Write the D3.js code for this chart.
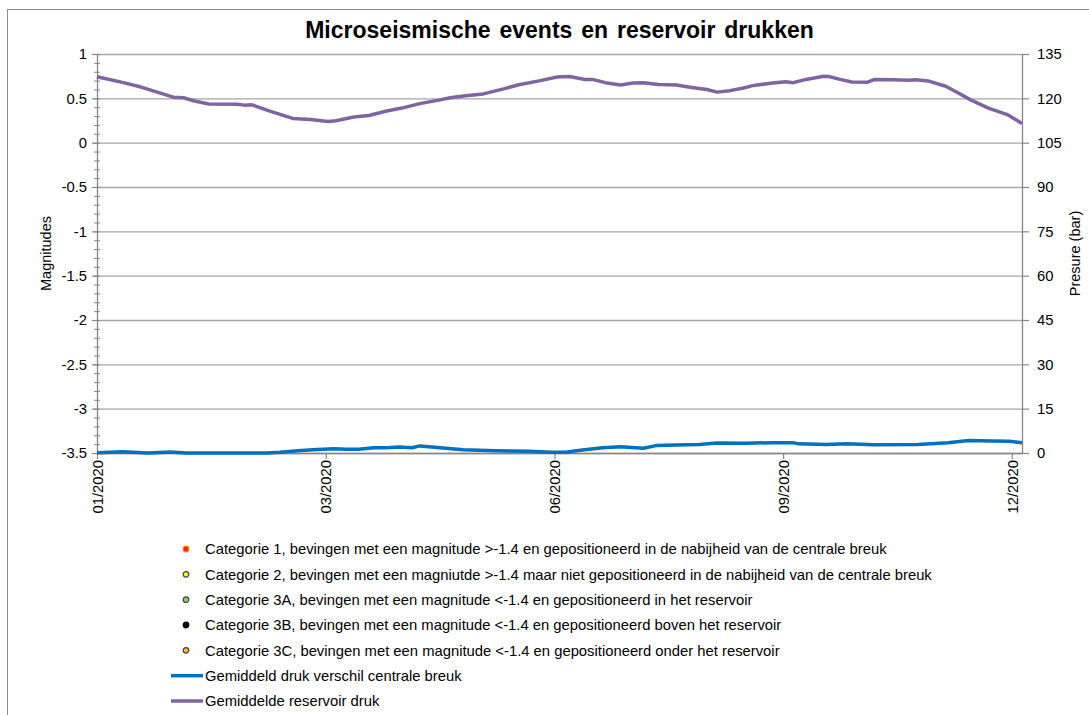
<!DOCTYPE html>
<html>
<head>
<meta charset="utf-8">
<script src="https://cdn.jsdelivr.net/npm/d3@7"></script>
<style>
  body { margin: 0; background: #fff; }
  text { font-family: "Liberation Sans", Arial, sans-serif; fill: #000; }
</style>
</head>
<body>
<div id="container"></div>
<script>
/* DATA (days counted from 01-01-2020) */
const startDate = new Date(2020, 0, 1);
const xTickDays = [0, 90, 180, 270, 360];
const xTickLabels = ["01/2020", "03/2020", "06/2020", "09/2020", "12/2020"];
const magnitudeTicks = [1, 0.5, 0, -0.5, -1, -1.5, -2, -2.5, -3, -3.5];
const pressureTicks = [0, 15, 30, 45, 60, 75, 90, 105, 120, 135];

// Gemiddelde reservoir druk (bar)
const reservoirDays = [0, 10, 17, 24, 30, 34, 38, 44, 55, 58, 61, 68, 77, 84, 91, 94, 101, 107, 114, 120,
  127, 134, 139, 145, 152, 160, 166, 174, 181, 186, 192, 195, 200, 206, 211, 215, 221, 228, 234, 240,
  244, 249, 254, 258, 265, 271, 274, 279, 286, 288, 292, 297, 303, 306, 313, 320, 322, 327, 334, 338,
  344, 351, 358, 364];
const reservoirPressure = [127.3, 125.4, 123.9, 122.0, 120.4, 120.2, 119.2, 118.1, 118.0, 117.7,
  117.8, 115.7, 113.2, 112.8, 112.2, 112.4, 113.7, 114.2, 115.7, 116.7,
  118.2, 119.3, 120.2, 120.9, 121.5, 123.2, 124.6, 125.9, 127.2, 127.4,
  126.4, 126.4, 125.3, 124.5, 125.2, 125.3, 124.7, 124.5, 123.7, 123.0,
  122.1, 122.6, 123.4, 124.3, 125.1, 125.6, 125.3, 126.4, 127.5, 127.4,
  126.5, 125.5, 125.4, 126.4, 126.3, 126.1, 126.3, 125.9, 124.1, 122.2,
  119.4, 116.6, 114.6, 111.5];

// Gemiddeld druk verschil centrale breuk (bar)
const faultDays = [0, 10, 20, 29, 35, 52, 67, 72, 79, 85, 93, 98, 103, 109, 114, 119, 124, 127, 135, 144,
  157, 170, 179, 185, 191, 199, 206, 215, 220, 228, 237, 244, 255, 266, 274, 276, 287, 295, 306, 323,
  335, 343, 352, 359, 364];
const faultPressure = [0.1, 0.44, 0, 0.34, 0, 0, 0, 0.24, 0.78, 1.1,
  1.45, 1.25, 1.25, 1.8, 1.8, 2.0, 1.8, 2.4, 1.8, 1.1,
  0.78, 0.58, 0.24, 0.34, 1.0, 1.8, 2.1, 1.6, 2.5, 2.7,
  2.9, 3.4, 3.3, 3.5, 3.5, 3.1, 2.9, 3.1, 2.8, 2.9,
  3.5, 4.2, 4.1, 4.0, 3.5];

const legendLabels = [
  "Categorie 1, bevingen met een magnitude >-1.4 en gepositioneerd in de nabijheid van de centrale breuk",
  "Categorie 2, bevingen met een magniutde >-1.4 maar niet gepositioneerd in de nabijheid van de centrale breuk",
  "Categorie 3A, bevingen met een magnitude <-1.4 en gepositioneerd in het reservoir",
  "Categorie 3B, bevingen met een magnitude <-1.4 en gepositioneerd boven het reservoir",
  "Categorie 3C, bevingen met een magnitude <-1.4 en gepositioneerd onder het reservoir",
  "Gemiddeld druk verschil centrale breuk",
  "Gemiddelde reservoir druk"
];

/* CONSTANTS */
const width = 1089, height = 715;
const margin = { top: 54, left: 97, right: 67, bottom: 262 };
const plotRight = width - margin.right, plotBottom = height - margin.bottom;
const gridColor = "#a6a6a6", axisColor = "#868686";
const blue = "#0070c0", purple = "#8064a2";

const toDate = d => d3.timeDay.offset(startDate, d);

const svg = d3.select("#container").append("svg")
  .attr("width", width)
  .attr("height", height);

// chart frame
svg.append("rect")
  .attr("x", 7.5).attr("y", 9.5)
  .attr("width", 1200).attr("height", 800)
  .attr("fill", "#fff")
  .attr("stroke", "#8c8c8c");

/* SCALES */
const xScale = d3.scaleTime()
  .domain([toDate(0), toDate(364)])
  .range([margin.left, plotRight]);
const yLeft = d3.scaleLinear().domain([-3.5, 1]).range([plotBottom, margin.top]);
const yRight = d3.scaleLinear().domain([0, 135]).range([plotBottom, margin.top]);

/* GRIDLINES */
svg.append("g")
  .attr("transform", `translate(${margin.left},0)`)
  .call(d3.axisLeft(yLeft).tickValues(magnitudeTicks).tickSize(-(plotRight - margin.left)).tickFormat(""))
  .call(g => g.select(".domain").remove())
  .call(g => g.selectAll("line").attr("stroke", gridColor).attr("stroke-width", 1.3));

/* MINOR TICKS left axis (crossing the axis) */
const minorTicks = d3.range(-35, 11).map(v => v / 10);
[d3.axisLeft, d3.axisRight].forEach(ax => {
  svg.append("g")
    .attr("transform", `translate(${margin.left},0)`)
    .call(ax(yLeft).tickValues(minorTicks).tickSize(3).tickFormat(""))
    .call(g => g.select(".domain").remove())
    .call(g => g.selectAll("line").attr("stroke", axisColor));
});

/* AXES */
const leftAxis = svg.append("g")
  .attr("transform", `translate(${margin.left},0)`)
  .call(d3.axisLeft(yLeft).tickValues(magnitudeTicks).tickSize(5).tickSizeOuter(0).tickPadding(5).tickFormat(d => String(d)));

const rightAxis = svg.append("g")
  .attr("transform", `translate(${plotRight},0)`)
  .call(d3.axisRight(yRight).tickValues(pressureTicks).tickSize(7).tickSizeOuter(0).tickPadding(8).tickFormat(d => String(d)));

const bottomAxis = svg.append("g")
  .attr("transform", `translate(0,${plotBottom})`)
  .call(d3.axisBottom(xScale).tickValues(xTickDays.map(toDate)).tickSize(6).tickSizeOuter(0)
    .tickFormat((d, i) => xTickLabels[i]));

bottomAxis.selectAll("text")
  .attr("transform", "rotate(-90)")
  .attr("text-anchor", "end")
  .attr("x", -7)
  .attr("y", 0)
  .attr("dy", "0.35em");

[leftAxis, rightAxis, bottomAxis].forEach(g => {
  g.select(".domain").attr("stroke", axisColor).attr("stroke-width", 1.3);
  g.selectAll(".tick line").attr("stroke", axisColor).attr("stroke-width", 1.2);
  g.selectAll("text").style("font-size", "14.8px").attr("fill", "#000");
});

/* AXIS TITLES */
svg.append("text")
  .attr("transform", `translate(51,${(margin.top + plotBottom) / 2}) rotate(-90)`)
  .attr("text-anchor", "middle")
  .style("font-size", "14.5px")
  .text("Magnitudes");

svg.append("text")
  .attr("transform", `translate(1080,${(margin.top + plotBottom) / 2}) rotate(-90)`)
  .attr("text-anchor", "middle")
  .style("font-size", "14.5px")
  .text("Presure (bar)");

svg.append("text")
  .attr("x", (margin.left + plotRight) / 2)
  .attr("y", 38)
  .attr("text-anchor", "middle")
  .style("font-size", "23px")
  .style("font-weight", "bold")
  .style("word-spacing", "2.5px")
  .text("Microseismische events en reservoir drukken");

/* LINES */
const lineGen = d3.line()
  .x(d => xScale(toDate(d[0])))
  .y(d => yRight(d[1]));

svg.append("path")
  .datum(faultDays.map((d, i) => [d, faultPressure[i]]))
  .attr("fill", "none")
  .attr("stroke", blue)
  .attr("stroke-width", 3.5)
  .attr("stroke-linejoin", "round")
  .attr("d", lineGen);

svg.append("path")
  .datum(reservoirDays.map((d, i) => [d, reservoirPressure[i]]))
  .attr("fill", "none")
  .attr("stroke", purple)
  .attr("stroke-width", 3.5)
  .attr("stroke-linejoin", "round")
  .attr("d", lineGen);

/* LEGEND */
const legendItems = [
  { type: "dot", fill: "#ff2000", stroke: "#ff7a00" },
  { type: "dot", fill: "#ffff00", stroke: "#404040" },
  { type: "dot", fill: "#92d050", stroke: "#404040" },
  { type: "dot", fill: "#000000", stroke: "#000000" },
  { type: "dot", fill: "#ffc000", stroke: "#404040" },
  { type: "line", stroke: blue },
  { type: "line", stroke: purple }
];
const legendY = d3.scalePoint().domain(d3.range(legendItems.length)).range([549, 701]);

const legend = svg.append("g").selectAll("g")
  .data(legendItems)
  .join("g")
  .attr("transform", (d, i) => `translate(0,${legendY(i)})`);

legend.filter(d => d.type === "dot").append("circle")
  .attr("cx", 186).attr("cy", 0).attr("r", 2.8)
  .attr("fill", d => d.fill)
  .attr("stroke", d => d.stroke)
  .attr("stroke-width", 1.2);

legend.filter(d => d.type === "line").append("line")
  .attr("x1", 171).attr("x2", 203)
  .attr("stroke", d => d.stroke)
  .attr("stroke-width", 3.5);

legend.append("text")
  .attr("x", 205)
  .attr("dy", "0.35em")
  .style("font-size", "14.8px")
  .text((d, i) => legendLabels[i]);
</script>
</body>
</html>
